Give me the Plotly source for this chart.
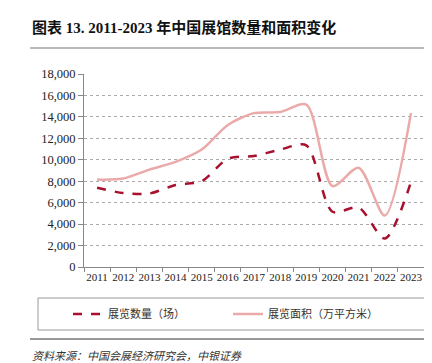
import plotly.graph_objects as go

years = [str(y) for y in range(2011, 2024)]
count = [7400, 6900, 6850, 7650, 8000, 10100, 10350, 10950, 11350, 5150, 5550, 2650, 7900]
area = [8150, 8250, 9080, 9800, 10950, 13250, 14350, 14450, 15150, 7550, 9250, 4800, 14350]
yticks = list(range(0, 18001, 2000))

W, H = 432, 363
L, R, T, B = 76, 16, 66, 104
pw, ph = W - L - R, H - T - B

def px(x):
    return (x - L) / pw

def py(y):
    return (H - B - y) / ph

fig = go.Figure()
fig.add_trace(go.Scatter(x=years, y=count, name="展览数量（场）", mode="lines", legend="legend",
                         line=dict(color="#A8102E", width=2.5, dash="dash", shape="spline", smoothing=0.8)))
fig.add_trace(go.Scatter(x=years, y=area, name="展览面积（万平方米）", mode="lines", legend="legend2",
                         line=dict(color="#EBAAAA", width=2.5, shape="spline", smoothing=0.8)))

font_serif = "Liberation Serif, Noto Sans CJK SC, serif"
leg_font = dict(size=11, family="Noto Sans CJK SC", color="#333")
fig.update_layout(
    width=W, height=H,
    margin=dict(l=L, r=R, t=T, b=B),
    paper_bgcolor="white", plot_bgcolor="white",
    font=dict(family=font_serif, size=12, color="#222"),
    showlegend=True,
    legend=dict(orientation="h", x=px(60), y=py(306), xanchor="left", yanchor="middle",
                font=leg_font, bgcolor="rgba(0,0,0,0)"),
    legend2=dict(orientation="h", x=px(220), y=py(306), xanchor="left", yanchor="middle",
                 font=leg_font, bgcolor="rgba(0,0,0,0)"),
    xaxis=dict(type="category", tickson="boundaries", ticks="outside", ticklen=4, tickcolor="#888",
               range=[-0.5, len(years) - 0.5],
               showline=True, linecolor="#888", linewidth=1, showgrid=False, tickangle=0,
               tickfont=dict(size=11, family=font_serif, color="#222")),
    yaxis=dict(range=[0, 18000], tickvals=yticks, tickformat=",", ticks="outside", ticklen=5, tickcolor="#888",
               showline=True, linecolor="#888", linewidth=1, showgrid=True, gridcolor="#aaaaaa", gridwidth=1,
               griddash="dot", zeroline=False,
               tickfont=dict(size=12.5, family=font_serif, color="#222")),
)

fig.add_shape(type="rect", xref="paper", yref="paper", x0=px(30), x1=px(418), y0=py(322), y1=py(290),
              line=dict(color="#999", width=1))
fig.add_shape(type="line", xref="paper", yref="paper", x0=px(22), x1=px(422), y0=py(40), y1=py(40),
              line=dict(color="#777", width=1.2))
fig.add_shape(type="line", xref="paper", yref="paper", x0=px(22), x1=px(422), y0=py(331), y1=py(331),
              line=dict(color="#333", width=1.2))

fig.add_annotation(text="<b>图表 13. 2011-2023 年中国展馆数量和面积变化</b>", xref="paper", yref="paper",
                   x=px(22), y=py(19), xanchor="left", yanchor="middle", showarrow=False,
                   font=dict(size=15, family="Liberation Serif, Noto Sans CJK SC", color="#111"))
fig.add_annotation(text="<i>资料来源：中国会展经济研究会，中银证券</i>", xref="paper", yref="paper",
                   x=px(22), y=py(347), xanchor="left", yanchor="middle", showarrow=False,
                   font=dict(size=11, family="Noto Sans CJK SC", color="#333"))

fig.write_html("out.html")
